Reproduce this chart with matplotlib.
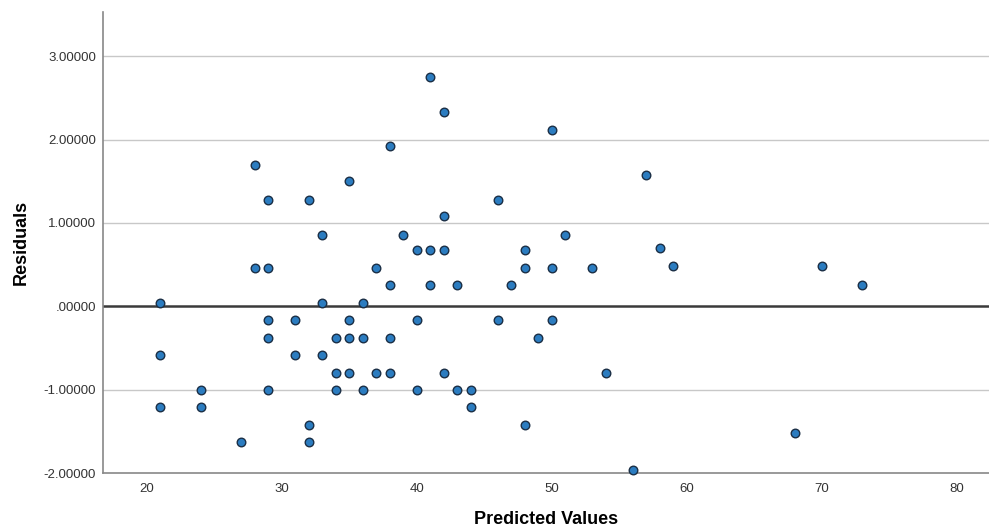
import matplotlib
matplotlib.use('Agg')
import matplotlib.pyplot as plt
import numpy as np

plt.rcParams['font.family'] = ['Liberation Sans', 'DejaVu Sans']

# predicted values and residuals
predicted = [21, 21, 21, 24, 24, 27, 28, 28, 29, 29, 29, 29, 29, 31, 31,
             32, 32, 32, 33, 33, 33, 34, 34, 34, 35, 35, 35, 35, 36, 36,
             36, 37, 37, 38, 38, 38, 38, 39, 40, 40, 40, 41, 41, 41, 42,
             42, 42, 42, 43, 43, 44, 44, 46, 46, 47, 48, 48, 48, 49, 50,
             50, 50, 51, 53, 54, 56, 57, 58, 59, 68, 70, 73]
residuals = [0.04, -0.59, -1.21, -1.00, -1.21, -1.63, 1.70, 0.46, 1.28, 0.46, -0.17, -0.38, -1.00, -0.17, -0.59,
             1.28, -1.42, -1.63, 0.86, 0.04, -0.59, -0.38, -0.80, -1.00, 1.50, -0.17, -0.38, -0.80, 0.04, -0.38,
             -1.00, 0.46, -0.80, 1.92, 0.25, -0.38, -0.80, 0.86, 0.67, -0.17, -1.00, 2.75, 0.67, 0.25, 2.33,
             1.08, 0.67, -0.80, 0.25, -1.00, -1.00, -1.21, 1.28, -0.17, 0.25, 0.67, 0.46, -1.42, -0.38, 2.11,
             0.46, -0.17, 0.86, 0.46, -0.80, -1.97, 1.58, 0.70, 0.48, -1.52, 0.48, 0.26]

yticks = [-2, -1, 0, 1, 2, 3]
ytick_labels = ['-2.00000', '-1.00000', '.00000', '1.00000', '2.00000', '3.00000']
xticks = [20, 30, 40, 50, 60, 70, 80]

fig = plt.figure(figsize=(9.89, 5.31), dpi=100)
ax = fig.add_axes([103/989, 58/531, 886/989, 461/531])

for y in yticks:
    if y in (0, -2):
        continue
    ax.axhline(y, color='#c8c8c8', lw=1.0, zorder=1)
ax.axhline(0, color='#3a3a3a', lw=1.8, zorder=2)

ax.scatter(predicted, residuals, s=38, facecolor='#2b7cc0', edgecolor='#1b2f45',
           linewidths=1.0, zorder=3, clip_on=False)

ax.set_xlim(16.74, 82.4)
ax.set_ylim(-2.0, 3.53)
ax.set_xticks(xticks)
ax.set_yticks(yticks)
ax.set_yticklabels(ytick_labels)
ax.tick_params(axis='both', length=0, labelsize=9.5, labelcolor='#333333')
ax.tick_params(axis='x', pad=7)
ax.tick_params(axis='y', pad=5)

for s in ['top', 'right']:
    ax.spines[s].set_visible(False)
for s in ['left', 'bottom']:
    ax.spines[s].set_color('#888888')
    ax.spines[s].set_linewidth(1.2)

ax.set_xlabel('Predicted Values', fontsize=13, fontweight='bold', labelpad=12)
ax.set_ylabel('Residuals', fontsize=13, fontweight='bold', labelpad=10)

fig.savefig('out.png', dpi=100)
